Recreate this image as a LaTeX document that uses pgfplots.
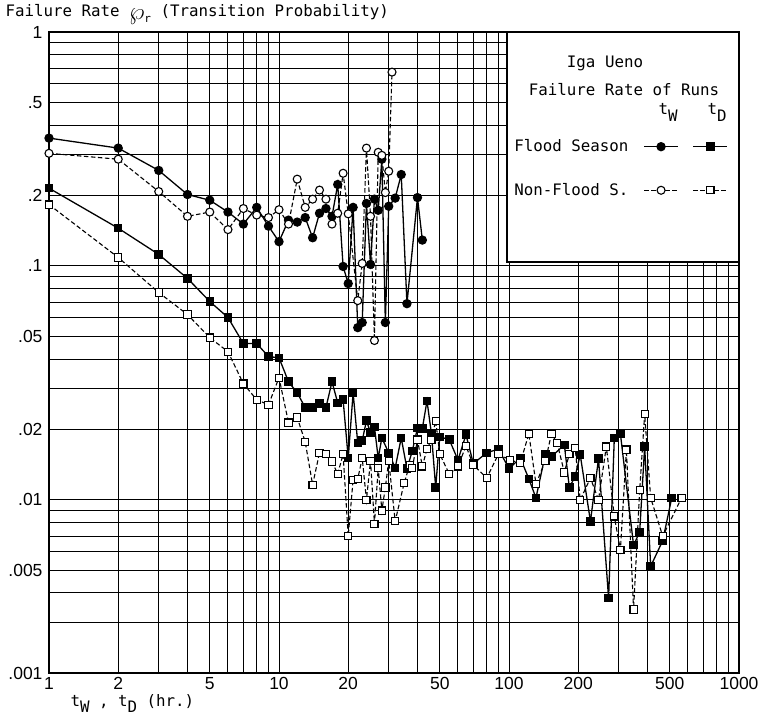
\documentclass[border=0pt]{standalone}
\usepackage{fontspec}
\usepackage{pgfplots}
\pgfplotsset{compat=1.18}
\setmainfont{DejaVu Sans Mono}
\newfontfamily\tickfont{Liberation Sans}
\newcommand{\txt}{\fontsize{15.8}{18}\selectfont}
\newcommand{\sub}[1]{\raisebox{-0.4em}{#1}}

\pgfplotsset{
  fw/.style={black, line width=1.3pt, solid, mark=*, mark size=4pt, mark options={solid, fill=black}},
  nw/.style={black, line width=1.1pt, dash pattern=on 4.5pt off 2.5pt, mark=*, mark size=4pt, mark options={solid, fill=white, line width=1.1pt}},
  fd/.style={black, line width=1.3pt, solid, mark=square*, mark size=3.6pt, mark options={solid, fill=black}},
  nd/.style={black, line width=1.1pt, dash pattern=on 4.5pt off 2.5pt, mark=square*, mark size=3.6pt, mark options={solid, fill=white, line width=1.1pt}},
}

\begin{document}
\begin{tikzpicture}
\begin{axis}[
  at={(0,0)}, anchor=south west,
  scale only axis, width=690pt, height=641pt,
  xmode=log, ymode=log,
  xmin=1, xmax=1000, ymin=0.00182, ymax=1,
  xtick={1,2,5,10,20,50,100,200,500,1000},
  xticklabels={1,2,5,10,20,50,100,200,500,1000},
  ytick={0.00182,0.005,0.01,0.02,0.05,0.1,0.2,0.5,1},
  yticklabels={.001,.005,.01,.02,.05,.1,.2,.5,1},
  minor xtick={3,4,6,7,8,9,30,40,60,70,80,90,300,400,600,700,800,900},
  minor ytick={0.003,0.004,0.006,0.007,0.008,0.009,0.03,0.04,0.06,0.07,0.08,0.09,0.3,0.4,0.6,0.7,0.8,0.9},
  grid=both,
  major grid style={black, line width=1pt},
  minor grid style={black, line width=1pt},
  major tick length=0pt, minor tick length=0pt,
  axis line style={line width=1.5pt},
  tick label style={font=\tickfont\fontsize{17.5}{19}\selectfont},
  xticklabel style={yshift=-1pt},
  yticklabel style={xshift=-3pt},
  legend columns=2,
  legend plot pos=right,
  legend image code/.code={\draw[mark repeat=2,mark phase=2,#1] plot coordinates {(0pt,0pt) (17pt,0pt) (34pt,0pt)};},
  legend style={at={(rel axis cs:0.674,0.832)}, anchor=north west, draw=none, fill=none,
    inner sep=0pt, font=\txt, row sep=30pt,
    nodes={inner sep=0pt},
    /tikz/every odd column/.append style={column sep=15pt},
    /tikz/every even column/.append style={column sep=-2pt}},
]
\draw[line width=1.5pt, fill=white] (rel axis cs:0.6638,0.6412) rectangle (rel axis cs:1,1);

% Flood season, t_W
\addplot[fw, forget plot] coordinates {
(1,0.352) (2,0.319) (3,0.256) (4,0.202) (5,0.191) (6,0.170) (7,0.151) (8,0.178)
(9,0.148) (10,0.127) (11,0.157) (12,0.154) (13,0.161) (14,0.132) (15,0.168) (16,0.176)
(17,0.163) (18,0.223) (19,0.0995) (20,0.0841) (21,0.178) (22,0.0545) (23,0.0573)
(24,0.185) (25,0.1015) (26,0.193) (27,0.173) (28,0.286) (29,0.0573) (30,0.180)
(32,0.195) (34,0.246) (36,0.069) (40,0.196) (42,0.129)
};
% Non-flood season, t_W
\addplot[nw, forget plot] coordinates {
(1,0.303) (2,0.286) (3,0.208) (4,0.163) (5,0.170) (6,0.143) (7,0.176) (8,0.165)
(9,0.161) (10,0.174) (11,0.151) (12,0.235) (13,0.178) (14,0.193) (15,0.211) (16,0.193)
(17,0.151) (18,0.168) (19,0.249) (20,0.167) (22,0.0711) (23,0.1025) (24,0.319)
(25,0.163) (26,0.048) (27,0.306) (28,0.297) (29,0.206) (30,0.254) (31,0.674)
};
% Flood season, t_D
\addplot[fd, forget plot] coordinates {
(1,0.215) (2,0.145) (3,0.112) (4,0.0885) (5,0.0705) (6,0.0602) (7,0.0466) (8,0.0466)
(9,0.041) (10,0.0405) (11,0.032) (12,0.0287) (13,0.0248) (14,0.0248) (15,0.0258)
(16,0.0248) (17,0.032) (18,0.026) (19,0.0268) (20,0.0151) (21,0.0287) (22,0.0175)
(23,0.0179) (24,0.0218) (25,0.0194) (26,0.0205) (27,0.0151) (28,0.0184) (30,0.0159)
(32,0.0137) (34,0.0184) (36,0.0136) (38,0.0162) (40,0.0203) (42,0.0202) (44,0.0265)
(46,0.0192) (48,0.0113) (50,0.0186) (55,0.0181) (60,0.0148) (65,0.019) (70,0.0143)
(80,0.0159) (90,0.0165) (100,0.0136) (112,0.0151) (122,0.0123) (131,0.0102)
(144,0.0157) (153,0.0153) (174,0.0172) (183,0.0113) (194,0.0126) (204,0.0156)
(226,0.0081) (245,0.0150) (271,0.0038) (287,0.0184) (305,0.0192) (348,0.0064)
(370,0.0073) (389,0.0169) (413,0.0052) (466,0.0067) (510,0.0102)
};
% Non-flood season, t_D
\addplot[nd, forget plot] coordinates {
(1,0.183) (2,0.1087) (3,0.077) (4,0.062) (5,0.0494) (6,0.043) (7,0.0314) (8,0.0268)
(9,0.0255) (10,0.0333) (11,0.0214) (12,0.0225) (13,0.0177) (14,0.0116) (15,0.0159)
(16,0.0157) (17,0.0146) (18,0.0129) (19,0.0157) (20,0.0070) (21,0.0122) (22,0.0123)
(23,0.0151) (24,0.0100) (25,0.0147) (26,0.0079) (27,0.0137) (28,0.0090) (29,0.0113)
(30,0.0147) (32,0.0081) (35,0.0118) (37,0.0141) (38,0.0137) (40,0.0181) (42,0.0139)
(44,0.0165) (46,0.0181) (48,0.0218) (50,0.0157) (55,0.0129) (60,0.0139) (65,0.017)
(70,0.0141) (80,0.0124) (90,0.0157) (101,0.0148) (112,0.0144) (122,0.0192)
(131,0.0117) (144,0.0147) (153,0.0192) (162,0.0175) (174,0.0131) (183,0.0157)
(194,0.0167) (204,0.0100) (226,0.0124) (245,0.0100) (265,0.0169) (287,0.0085)
(305,0.0061) (324,0.0164) (348,0.0034) (370,0.0110) (389,0.0233) (413,0.0102)
(466,0.0070) (563,0.0102)
};

\addlegendimage{fw}
\addlegendentry{Flood Season}
\addlegendimage{fd}
\addlegendentry{}
\addlegendimage{nw}
\addlegendentry{Non-Flood S.}
\addlegendimage{nd}
\addlegendentry{}
\end{axis}

\node[anchor=base west, font=\txt] at (-47pt,656pt)
  {Failure Rate \raisebox{-0.15em}{\scalebox{1.7}{$\wp$}}\raisebox{-0.35em}{\fontsize{11}{12}\selectfont r} (Transition Probability)};
\node[anchor=base, font=\txt] at (556pt,605pt) {Iga Ueno};
\node[anchor=base, font=\txt] at (575pt,577pt) {Failure Rate of Runs};
\node[anchor=base west, font=\txt] at (606pt,558pt) {t\sub{W}};
\node[anchor=base west, font=\txt] at (655pt,558pt) {t\sub{D}};
\node[anchor=base west, font=\txt] at (18pt,-33pt) {t\sub{W} , t\sub{D} (hr.)};

\pgfresetboundingbox
\path[use as bounding box] (-49pt,-42pt) rectangle (713pt,673pt);
\end{tikzpicture}
\end{document}
